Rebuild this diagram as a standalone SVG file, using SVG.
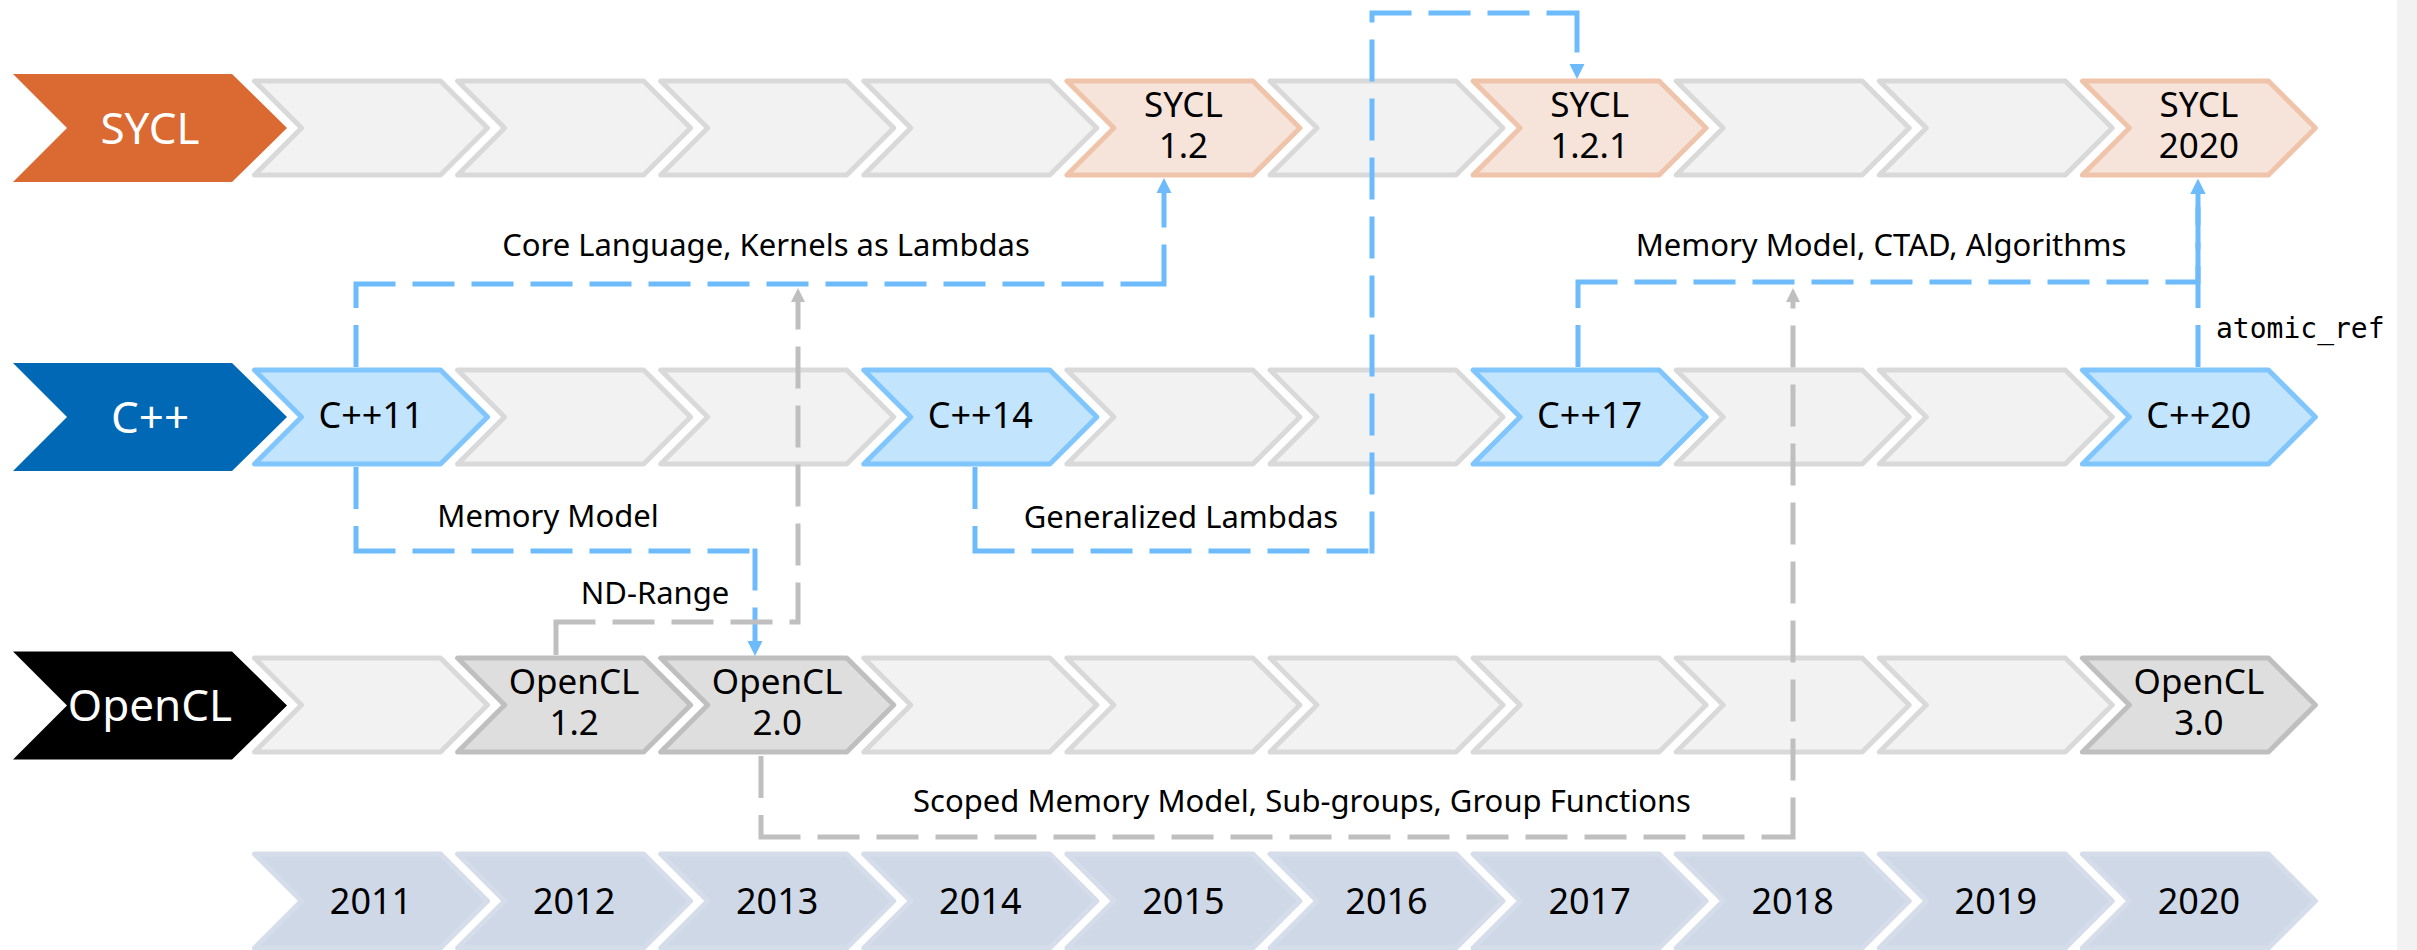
<svg xmlns="http://www.w3.org/2000/svg" width="2417" height="950" viewBox="0 0 2417 950">
<style>
text{font-family:"Noto Sans","Liberation Sans",sans-serif;}
.hd{font-size:44px;fill:#fff;text-anchor:middle;}
.vt{font-size:36px;fill:#000;text-anchor:middle;}
.v2{font-size:35px;fill:#000;text-anchor:middle;}
.lb{font-size:31px;fill:#000;text-anchor:middle;}
.mono{font-family:"DejaVu Sans Mono","Liberation Mono",monospace;font-size:28px;fill:#000;}
.g{fill:#F2F2F2;stroke:#D9D9D9;stroke-width:5;stroke-linejoin:round;}
.sy{fill:#F6E4DA;stroke:#F0C4AA;stroke-width:5;stroke-linejoin:round;}
.cp{fill:#C3E4FD;stroke:#80C6FD;stroke-width:5;stroke-linejoin:round;}
.oc{fill:#DEDEDE;stroke:#BFBFBF;stroke-width:5;stroke-linejoin:round;}
.yr{fill:#CFD8E7;stroke:#D6DDEA;stroke-width:5;stroke-linejoin:round;}
.cb{fill:none;stroke:#6DBBFB;stroke-width:5;stroke-dasharray:42 17;}
.cg{fill:none;stroke:#BFBFBF;stroke-width:5;stroke-dasharray:42 17;}
</style>
<defs>
<path id="chev" d="M0,-47 H186 L233,0 L186,47 H0 L47,0 Z"/>
<path id="head" d="M13,-54 H232 L287,0 L232,54 H13 L67,0 Z"/>
<marker id="ab" markerUnits="userSpaceOnUse" viewBox="0 0 15 16" markerWidth="15" markerHeight="16" refX="0" refY="8" orient="auto"><path d="M0,0.5 L15,8 L0,15.5 Z" fill="#6DBBFB"/></marker>
<marker id="ag" markerUnits="userSpaceOnUse" viewBox="0 0 15 16" markerWidth="15" markerHeight="16" refX="0" refY="8" orient="auto"><path d="M0,1 L14,8 L0,15 Z" fill="#BFBFBF"/></marker>
</defs>
<rect x="0" y="0" width="2417" height="950" fill="#fff"/>
<rect x="2397" y="0" width="20" height="950" fill="#F2F2F2"/>

<g id="row-sycl">
<use href="#head" transform="translate(0,128)" fill="#DA6A32"/>
<text class="hd" x="150" y="144">SYCL</text>
<use href="#chev" class="g" transform="translate(254.5,128)"/>
<use href="#chev" class="g" transform="translate(457.6,128)"/>
<use href="#chev" class="g" transform="translate(660.7,128)"/>
<use href="#chev" class="g" transform="translate(863.8,128)"/>
<use href="#chev" class="g" transform="translate(1270.0,128)"/>
<use href="#chev" class="g" transform="translate(1676.2,128)"/>
<use href="#chev" class="g" transform="translate(1879.3,128)"/>
</g>
<g id="sycl-1-2"><use href="#chev" class="sy" transform="translate(1066.9,128)"/><text class="v2"><tspan x="1183.4" y="117">SYCL</tspan><tspan x="1183.4" y="158">1.2</tspan></text></g>
<g id="sycl-1-2-1"><use href="#chev" class="sy" transform="translate(1473.1,128)"/><text class="v2"><tspan x="1589.6" y="117">SYCL</tspan><tspan x="1589.6" y="158">1.2.1</tspan></text></g>
<g id="sycl-2020"><use href="#chev" class="sy" transform="translate(2082.4,128)"/><text class="v2"><tspan x="2198.9" y="117">SYCL</tspan><tspan x="2198.9" y="158">2020</tspan></text></g>

<g id="row-cpp">
<use href="#head" transform="translate(0,417)" fill="#0068B5"/>
<text class="hd" x="150" y="433">C++</text>
<use href="#chev" class="g" transform="translate(457.6,417)"/>
<use href="#chev" class="g" transform="translate(660.7,417)"/>
<use href="#chev" class="g" transform="translate(1066.9,417)"/>
<use href="#chev" class="g" transform="translate(1270.0,417)"/>
<use href="#chev" class="g" transform="translate(1676.2,417)"/>
<use href="#chev" class="g" transform="translate(1879.3,417)"/>
</g>
<g id="cpp11"><use href="#chev" class="cp" transform="translate(254.5,417)"/><text class="vt" x="371" y="428">C++11</text></g>
<g id="cpp14"><use href="#chev" class="cp" transform="translate(863.8,417)"/><text class="vt" x="980.3" y="428">C++14</text></g>
<g id="cpp17"><use href="#chev" class="cp" transform="translate(1473.1,417)"/><text class="vt" x="1589.6" y="428">C++17</text></g>
<g id="cpp20"><use href="#chev" class="cp" transform="translate(2082.4,417)"/><text class="vt" x="2198.9" y="428">C++20</text></g>

<g id="row-opencl">
<use href="#head" transform="translate(0,705.5)" fill="#000"/>
<text class="hd" x="150" y="721">OpenCL</text>
<use href="#chev" class="g" transform="translate(254.5,705)"/>
<use href="#chev" class="g" transform="translate(863.8,705)"/>
<use href="#chev" class="g" transform="translate(1066.9,705)"/>
<use href="#chev" class="g" transform="translate(1270.0,705)"/>
<use href="#chev" class="g" transform="translate(1473.1,705)"/>
<use href="#chev" class="g" transform="translate(1676.2,705)"/>
<use href="#chev" class="g" transform="translate(1879.3,705)"/>
</g>
<g id="opencl-1-2"><use href="#chev" class="oc" transform="translate(457.6,705)"/><text class="v2"><tspan x="574.1" y="694">OpenCL</tspan><tspan x="574.1" y="735">1.2</tspan></text></g>
<g id="opencl-2-0"><use href="#chev" class="oc" transform="translate(660.7,705)"/><text class="v2"><tspan x="777.2" y="694">OpenCL</tspan><tspan x="777.2" y="735">2.0</tspan></text></g>
<g id="opencl-3-0"><use href="#chev" class="oc" transform="translate(2082.4,705)"/><text class="v2"><tspan x="2198.9" y="694">OpenCL</tspan><tspan x="2198.9" y="735">3.0</tspan></text></g>

<g id="years">
<use href="#chev" class="yr" transform="translate(254.5,901)"/><text class="vt" x="371" y="914">2011</text>
<use href="#chev" class="yr" transform="translate(457.6,901)"/><text class="vt" x="574.1" y="914">2012</text>
<use href="#chev" class="yr" transform="translate(660.7,901)"/><text class="vt" x="777.2" y="914">2013</text>
<use href="#chev" class="yr" transform="translate(863.8,901)"/><text class="vt" x="980.3" y="914">2014</text>
<use href="#chev" class="yr" transform="translate(1066.9,901)"/><text class="vt" x="1183.4" y="914">2015</text>
<use href="#chev" class="yr" transform="translate(1270.0,901)"/><text class="vt" x="1386.5" y="914">2016</text>
<use href="#chev" class="yr" transform="translate(1473.1,901)"/><text class="vt" x="1589.6" y="914">2017</text>
<use href="#chev" class="yr" transform="translate(1676.2,901)"/><text class="vt" x="1792.7" y="914">2018</text>
<use href="#chev" class="yr" transform="translate(1879.3,901)"/><text class="vt" x="1995.8" y="914">2019</text>
<use href="#chev" class="yr" transform="translate(2082.4,901)"/><text class="vt" x="2198.9" y="914">2020</text>
</g>

<g id="connectors">
<path class="cb" d="M356,367 V284 M353.5,284 H1164 M1164,286.5 V193" marker-end="url(#ab)"/>
<text class="lb" x="766" y="256">Core Language, Kernels as Lambdas</text>
<path class="cb" d="M356,467 V551 M353.5,551 H755 M755,548.5 V641" marker-end="url(#ab)"/>
<text class="lb" x="548" y="527">Memory Model</text>
<path class="cg" d="M556,655 V622 M553.5,622 H798 M798,624.5 V302" marker-end="url(#ag)"/>
<text class="lb" x="655" y="604">ND-Range</text>
<path class="cb" d="M975,467 V551 M972.5,551 H1372 M1372,553.5 V13 M1369.5,13 H1577 M1577,10.5 V64" marker-end="url(#ab)"/>
<text class="lb" x="1181" y="528">Generalized Lambdas</text>
<path class="cb" d="M1578,367 V282 M1575.5,282 H2198 M2198,284.5 V194" marker-end="url(#ab)"/>
<text class="lb" x="1881" y="256">Memory Model, CTAD, Algorithms</text>
<path class="cb" d="M2198,367 V194" marker-end="url(#ab)"/>
<text class="mono" x="2216" y="338">atomic_ref</text>
<path class="cg" d="M761,756 V837 M758.5,837 H1793 M1793,839.5 V302" marker-end="url(#ag)"/>
<text class="lb" x="1302" y="812">Scoped Memory Model, Sub-groups, Group Functions</text>
</g>
</svg>
